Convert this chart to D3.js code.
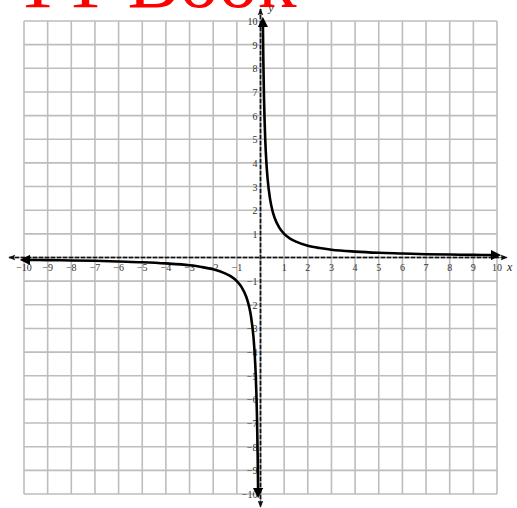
<!DOCTYPE html>
<html>
<head>
<meta charset="utf-8">
<script src="https://cdn.jsdelivr.net/npm/d3@7/dist/d3.min.js"></script>
<style>
  html, body { margin: 0; padding: 0; background: #fff; }
  svg { display: block; }
</style>
</head>
<body>
<script>
// Grid values and tick labels
const gridValues = [-10, -9, -8, -7, -6, -5, -4, -3, -2, -1, 0, 1, 2, 3, 4, 5, 6, 7, 8, 9, 10];
const tickLabels = [-10, -9, -8, -7, -6, -5, -4, -3, -2, -1, 1, 2, 3, 4, 5, 6, 7, 8, 9, 10];

// Points on the right-hand branch (x > 0)
const rightX = [0.1, 0.12, 0.15, 0.2, 0.25, 0.3, 0.4, 0.5, 0.6, 0.8, 1, 1.25, 1.5, 2, 2.5, 3, 4, 5, 6, 7, 8, 9, 10];
const rightY = [10, 8.33, 6.67, 5, 4, 3.33, 2.5, 2, 1.67, 1.25, 1, 0.8, 0.67, 0.5, 0.4, 0.33, 0.25, 0.2, 0.17, 0.14, 0.125, 0.11, 0.1];

// Points on the left-hand branch (x < 0)
const leftX = [-10, -9, -8, -7, -6, -5, -4, -3, -2.5, -2, -1.5, -1.25, -1, -0.8, -0.6, -0.5, -0.4, -0.3, -0.25, -0.2, -0.15, -0.12, -0.1];
const leftY = [-0.1, -0.11, -0.125, -0.14, -0.17, -0.2, -0.25, -0.33, -0.4, -0.5, -0.67, -0.8, -1, -1.25, -1.67, -2, -2.5, -3.33, -4, -5, -6.67, -8.33, -10];

const W = 517, H = 508;
const svg = d3.select("body").append("svg").attr("width", W).attr("height", H);

const x = d3.scaleLinear().domain([-10, 10]).range([24, 497]);
const y = d3.scaleLinear().domain([-10, 10]).range([494, 21]);

const defs = svg.append("defs");
defs.append("marker")
  .attr("id", "curveHead").attr("viewBox", "0 0 10 10")
  .attr("refX", 6).attr("refY", 5)
  .attr("markerWidth", 4).attr("markerHeight", 4)
  .attr("orient", "auto-start-reverse")
  .attr("markerUnits", "strokeWidth")
  .append("path").attr("d", "M0,0 L10,5 L0,10 Z").attr("fill", "#000");
defs.append("marker")
  .attr("id", "axisHead").attr("viewBox", "0 0 10 10")
  .attr("refX", 9).attr("refY", 5)
  .attr("markerWidth", 7).attr("markerHeight", 7)
  .attr("orient", "auto-start-reverse")
  .attr("markerUnits", "userSpaceOnUse")
  .append("path").attr("d", "M0,1 L10,5 L0,9 L2,5 Z").attr("fill", "#111");

// Title text (top, partly cropped)
svg.append("text")
  .attr("x", 14).attr("y", 7)
  .attr("font-family", "'Liberation Serif', 'DejaVu Serif', serif")
  .attr("font-size", 78)
  .attr("fill", "#ff0000")
  .text("TT Book");

// Grid
const grid = svg.append("g");
grid.selectAll("line.v").data(gridValues).join("line")
  .attr("class", "v")
  .attr("x1", d => x(d)).attr("x2", d => x(d))
  .attr("y1", y(10)).attr("y2", y(-10))
  .attr("stroke", "#bdbdbd").attr("stroke-width", 1.6);
grid.selectAll("line.h").data(gridValues).join("line")
  .attr("class", "h")
  .attr("y1", d => y(d)).attr("y2", d => y(d))
  .attr("x1", x(-10)).attr("x2", x(10))
  .attr("stroke", "#bdbdbd").attr("stroke-width", 1.6);

// Axes: grey base with dark dashes on top, arrowheads at both ends
const axes = svg.append("g");
axes.append("line")
  .attr("x1", 9).attr("x2", 507).attr("y1", y(0)).attr("y2", y(0))
  .attr("stroke", "#888").attr("stroke-width", 1.6);
axes.append("line")
  .attr("x1", 9).attr("x2", 507).attr("y1", y(0)).attr("y2", y(0))
  .attr("stroke", "#111").attr("stroke-width", 1.6)
  .attr("stroke-dasharray", "4,2")
  .attr("marker-start", "url(#axisHead)").attr("marker-end", "url(#axisHead)");
axes.append("line")
  .attr("y1", 9).attr("y2", 507).attr("x1", x(0)).attr("x2", x(0))
  .attr("stroke", "#888").attr("stroke-width", 1.6);
axes.append("line")
  .attr("y1", 9).attr("y2", 507).attr("x1", x(0)).attr("x2", x(0))
  .attr("stroke", "#111").attr("stroke-width", 1.6)
  .attr("stroke-dasharray", "4,2")
  .attr("marker-start", "url(#axisHead)").attr("marker-end", "url(#axisHead)");

// Tick labels
const labelFont = "'Liberation Serif', 'DejaVu Serif', serif";
const fmt = d => d < 0 ? "\u2212" + Math.abs(d) : String(d);
svg.append("g").selectAll("text").data(tickLabels).join("text")
  .attr("x", d => x(d)).attr("y", y(0) + 13)
  .attr("text-anchor", "middle")
  .attr("font-family", labelFont).attr("font-size", 10)
  .attr("fill", "#333")
  .text(fmt);
svg.append("g").selectAll("text").data(tickLabels).join("text")
  .attr("x", x(0) - 3).attr("y", d => y(d) + 4)
  .attr("text-anchor", "end")
  .attr("font-family", labelFont).attr("font-size", 10)
  .attr("fill", "#333")
  .text(fmt);

svg.append("text")
  .attr("x", 507).attr("y", y(0) + 13)
  .attr("font-family", labelFont).attr("font-size", 12).attr("font-style", "italic")
  .attr("fill", "#222").text("x");
svg.append("text")
  .attr("x", x(0) + 8).attr("y", 12)
  .attr("font-family", labelFont).attr("font-size", 11).attr("font-style", "italic")
  .attr("fill", "#222").text("y");

// Hyperbola branches
const line = d3.line()
  .x(d => x(d[0])).y(d => y(d[1]))
  .curve(d3.curveMonotoneX);

const branches = [
  d3.zip(rightX, rightY),
  d3.zip(leftX, leftY)
];
svg.append("g").selectAll("path").data(branches).join("path")
  .attr("d", line)
  .attr("fill", "none")
  .attr("stroke", "#000")
  .attr("stroke-width", 2.6)
  .attr("stroke-linecap", "round")
  .attr("marker-start", "url(#curveHead)")
  .attr("marker-end", "url(#curveHead)");
</script>
</body>
</html>
